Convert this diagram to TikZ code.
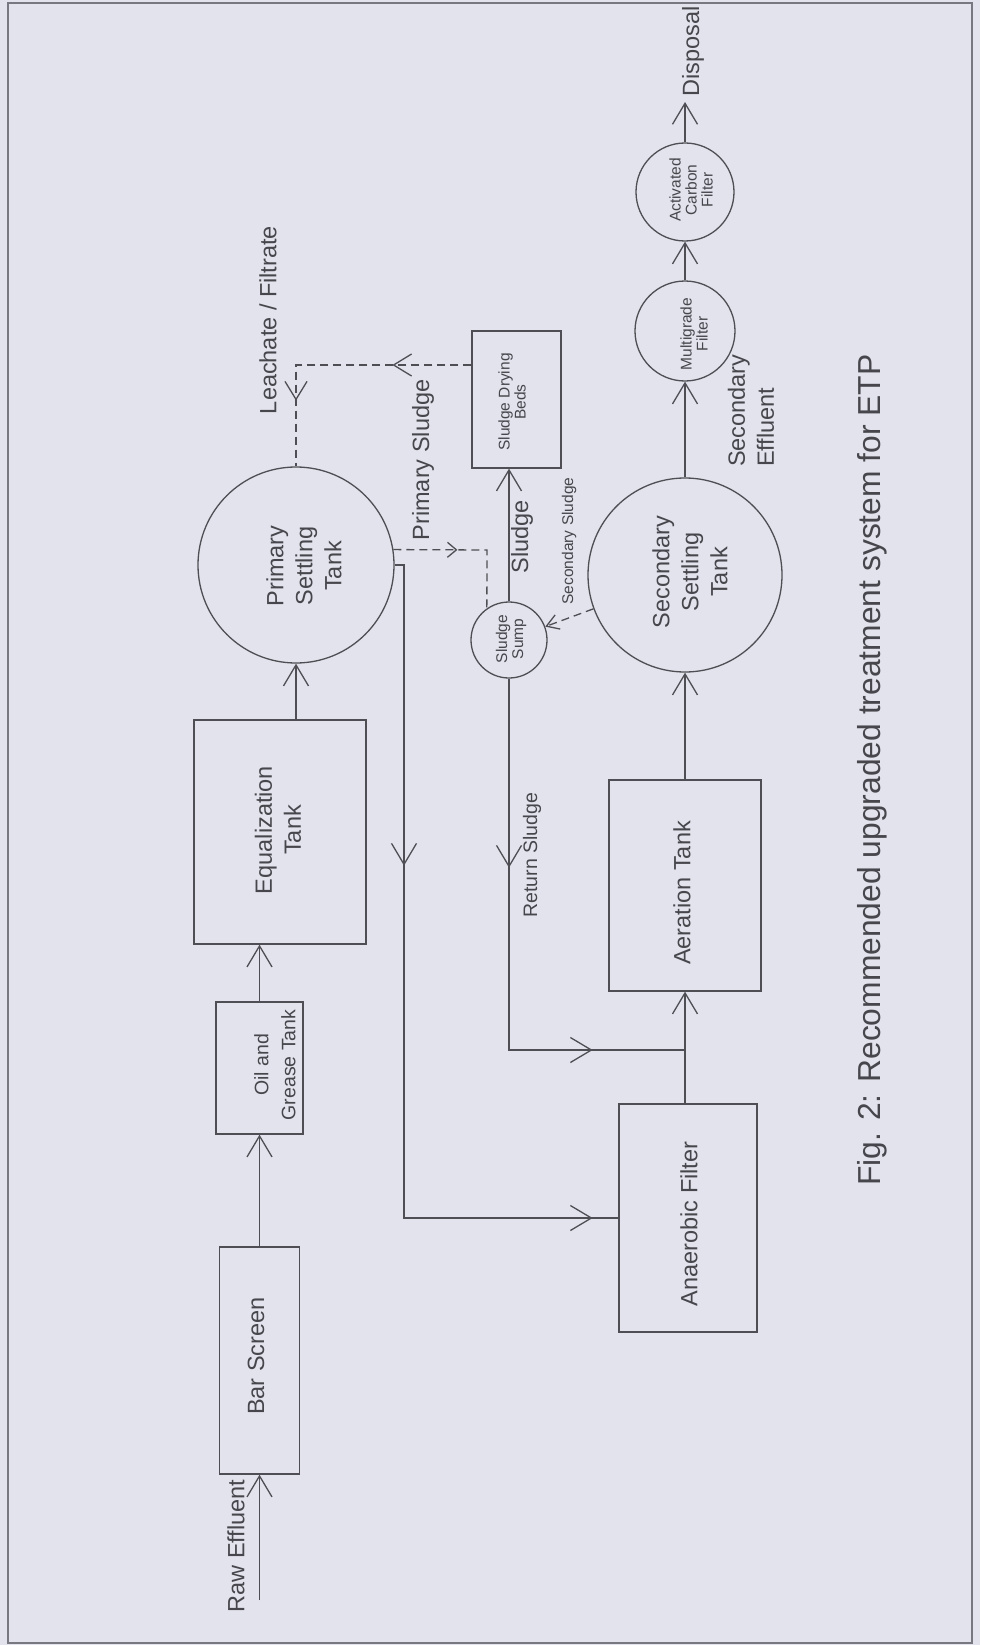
\documentclass[tikz,border=0pt]{standalone}
\usepackage{fontspec}
\setmainfont{Liberation Sans}
\usetikzlibrary{arrows.meta,decorations.markings}
\definecolor{bg}{RGB}{227,227,237}
\definecolor{lc}{RGB}{78,78,84}
\definecolor{tc}{RGB}{70,70,76}
\definecolor{fc}{RGB}{120,120,128}
\newcommand{\bigarrow}{\arrow{Straight Barb[length=21pt,width=25pt]}}
\newcommand{\midarrow}{\arrow{Straight Barb[length=18pt,width=22pt]}}
\newcommand{\smallarrow}{\arrow{Straight Barb[length=9pt,width=15pt]}}
\tikzset{
  bigtip/.tip={Straight Barb[length=21pt,width=25pt]},
  sstip/.tip={Straight Barb[length=12pt,width=15pt]},
  ln/.style={color=lc, line width=1.3pt},
  flow/.style={ln, -bigtip},
  dsh/.style={ln, dash pattern=on 8pt off 5pt},
  box/.style={draw=lc, line width=1.3pt, rectangle, inner sep=0pt},
  tank/.style={draw=lc, line width=1.3pt, circle, inner sep=0pt},
  lbl/.style={text=tc, rotate=90, inner sep=0pt, align=center, font=\fontsize{23.5}{29}\selectfont},
  sml/.style={lbl, font=\fontsize{15.5}{16}\selectfont},
}
\begin{document}
\begin{tikzpicture}[x=1pt,y=-1pt]
\useasboundingbox (0,0) rectangle (980,1645);
\fill[bg] (0,0) rectangle (980,1645);
\draw[fc, line width=1.2pt] (8,3) rectangle (972,1643);

% shapes
\node[box, minimum width=80pt, minimum height=227pt] (bar) at (259.5,1360.5) {};
\node[box, minimum width=87pt, minimum height=132pt] (oil) at (259.5,1068) {};
\node[box, minimum width=172pt, minimum height=224pt] (eq) at (280,832) {};
\node[tank, minimum size=196pt] (pst) at (296,565) {};
\node[box, minimum width=89pt, minimum height=137pt] (beds) at (516.5,399.5) {};
\node[tank, minimum size=76pt] (sump) at (509,640) {};
\node[tank, minimum size=194pt] (sst) at (685,575) {};
\node[tank, minimum size=100pt] (mgf) at (685,331) {};
\node[tank, minimum size=98pt] (acf) at (685,192) {};
\node[box, minimum width=152pt, minimum height=211pt] (aer) at (685,885.5) {};
\node[box, minimum width=138pt, minimum height=228pt] (anf) at (688,1218) {};

% texts in shapes
\node[lbl] (bar-t) at (256,1356) {Bar Screen};
\node[lbl, font=\fontsize{19.5}{27}\selectfont] (oil-t) at (275,1065) {Oil and\\Grease Tank};
\node[lbl] (eq-t) at (278,830) {Equalization\\Tank};
\node[lbl] (pst-t) at (304,566) {Primary\\Settling\\Tank};
\node[sml] (beds-t) at (512,402) {Sludge Drying\\Beds};
\node[sml] (sump-t) at (511,639) {Sludge\\Sump};
\node[lbl] (sst-t) at (690,572) {Secondary\\Settling\\Tank};
\node[sml] (mgf-t) at (694,334) {Multigrade\\Filter};
\node[sml] (acf-t) at (691,190) {Activated\\Carbon\\Filter};
\node[lbl] (aer-t) at (682,893) {Aeration Tank};
\node[lbl] (anf-t) at (689,1224) {Anaerobic Filter};

% free labels
\node[lbl] (raw-t) at (236,1546) {Raw Effluent};
\node[lbl] (leach-t) at (268,320) {Leachate / Filtrate};
\node[lbl] (ps-t) at (423,460) {Primary Sludge};
\node[lbl] (sl-t) at (522,537) {Sludge};
\node[sml] (ss-t) at (569,541) {Secondary Sludge};
\node[lbl, font=\fontsize{19.5}{24}\selectfont] (rs-t) at (532,855) {Return Sludge};
\node[lbl, align=left, anchor=west] (se-t) at (751,467) {Secondary\\Effluent};
\node[lbl, anchor=west] (disp-t) at (693,97) {Disposal};
\node[lbl, font=\fontsize{31.8}{38}\selectfont] (cap) at (872,770) {Fig. 2: Recommended upgraded treatment system for ETP};

% coordinates
\coordinate (raw) at (259.5,1600);
\coordinate (dtip) at (685,102);
\coordinate (p1) at (404,565);
\coordinate (p2) at (404,1218);
\coordinate (r1) at (509,1050);
\coordinate (lk) at (296,365);
\coordinate (ps1) at (487,550);

% straight flows
\draw[flow] (raw) -- (raw |- bar.south);
\draw[flow] (bar.north) -- (bar.north |- oil.south);
\draw[flow] (oil.north) -- (oil.north |- eq.south);
\draw[flow] (pst.south |- eq.north) -- (pst.south);
\draw[flow] (aer.south |- anf.north) -- (aer.south);
\draw[flow] (aer.north) -- (sst.south);
\draw[flow] (sst.north) -- (mgf.south);
\draw[flow] (mgf.north) -- (acf.south);
\draw[flow] (acf.north) -- (dtip);
\draw[flow] (sump.north) -- (sump.north |- beds.south);
\draw[dsh, -sstip] (sst) -- (sump);

% routed flows with mid arrows
\draw[ln, postaction=decorate, decoration={markings,
   mark=at position 310pt with {\bigarrow},
   mark=at position 851pt with {\bigarrow}}]
  (pst.east) -- (p1) -- (p2) -- (p2 -| anf.west);
\draw[ln, postaction=decorate, decoration={markings,
   mark=at position 189pt with {\bigarrow},
   mark=at position 455pt with {\bigarrow}}]
  (sump.south) -- (r1) -- (aer.south |- r1);
\draw[dsh, postaction=decorate, decoration={markings,
   mark=at position 79pt with {\midarrow},
   mark=at position 211pt with {\midarrow}}]
  (beds.west |- lk) -- (lk) -- (pst.north);
\draw[dsh, postaction=decorate, decoration={markings,
   mark=at position 64pt with {\smallarrow}}]
  (pst.9) -- (ps1) -- (sump.125);
\end{tikzpicture}
\end{document}
